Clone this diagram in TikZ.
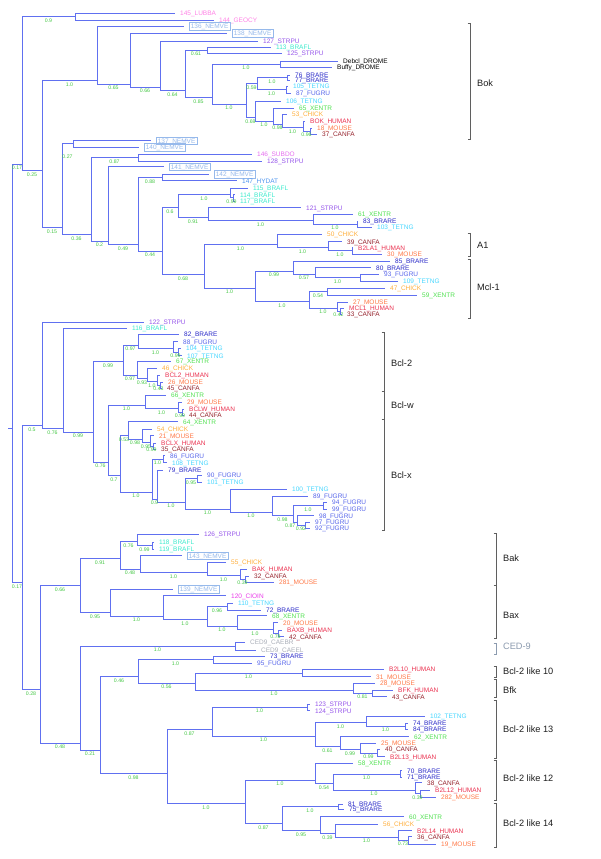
\documentclass[tikz,border=0pt]{standalone}
\usepackage{fontspec}
\setmainfont{Liberation Sans}
\usetikzlibrary{calc}
\definecolor{cbr}{RGB}{96,112,240}
\definecolor{csup}{RGB}{70,200,70}
\definecolor{BRARE}{RGB}{40,40,200}
\definecolor{FUGRU}{RGB}{85,100,235}
\definecolor{TETNG}{RGB}{70,215,255}
\definecolor{XENTR}{RGB}{80,225,80}
\definecolor{CHICK}{RGB}{255,175,60}
\definecolor{HUMAN}{RGB}{235,50,80}
\definecolor{MOUSE}{RGB}{255,120,70}
\definecolor{CANFA}{RGB}{150,35,45}
\definecolor{STRPU}{RGB}{150,85,235}
\definecolor{BRAFL}{RGB}{60,235,205}
\definecolor{NEMVE}{RGB}{150,185,235}
\definecolor{LUBBA}{RGB}{255,130,230}
\definecolor{SUBDO}{RGB}{230,110,240}
\definecolor{HYDAT}{RGB}{80,150,240}
\definecolor{CIOIN}{RGB}{235,60,235}
\definecolor{CAEEL}{RGB}{170,175,185}
\definecolor{DROME}{RGB}{0,0,0}
\definecolor{brk}{RGB}{95,95,95}
\definecolor{grptxt}{RGB}{30,30,30}
\definecolor{cedc}{RGB}{140,155,175}
\tikzset{
  branch/.style={draw=cbr,line width=0.9pt},
  leaf/.style={anchor=west,inner sep=0pt,font=\fontsize{6.5}{7}\selectfont,text height=4.7pt,text depth=0pt},
  leafbox/.style={leaf,draw=NEMVE,text=NEMVE,inner xsep=1.5pt,inner ysep=1.5pt,line width=0.6pt},
  sup/.style={anchor=north,inner sep=0pt,font=\fontsize{5.2}{6}\selectfont,text=csup,text height=3.8pt,text depth=0pt,yshift=-1.6pt},
  bracket/.style={line width=0.7pt},
  grp/.style={anchor=west,inner sep=0pt,font=\fontsize{9.2}{11}\selectfont,text height=6.6pt,text depth=0pt}
}
\makeatletter
\def\tr@none{-}
\newcommand\Lf[5]{%
  \coordinate (#1) at ({#2-5},#3);
  \node[leaf,text=#5] (#1t) at (#2,#3) {#4};
  \expandafter\xdef\csname trS@#1\endcsname{#3}%
  \expandafter\xdef\csname trC@#1\endcsname{1}%
}
\newcommand\Lb[4]{%
  \coordinate (#1) at ({#2-5},#3);
  \node[leafbox] (#1t) at (#2,#3) {#4};
  \expandafter\xdef\csname trS@#1\endcsname{#3}%
  \expandafter\xdef\csname trC@#1\endcsname{1}%
}
\newcommand\Nd[3]{%
  \gdef\tr@S{0}\gdef\tr@C{0}%
  \foreach \chd/\lbl in {#3}{%
    \xdef\tr@S{\fpeval{\tr@S+\csname trS@\chd\endcsname}}%
    \xdef\tr@C{\fpeval{\tr@C+\csname trC@\chd\endcsname}}%
  }%
  \expandafter\xdef\csname trS@#1\endcsname{\tr@S}%
  \expandafter\xdef\csname trC@#1\endcsname{\tr@C}%
  \edef\tr@y{\fpeval{round(\tr@S/\tr@C,2)}}%
  \coordinate (#1) at (#2,\tr@y);
  \foreach \chd/\lbl in {#3}{%
    \draw[branch] (#1) |- (\chd);
    \edef\tr@l{\lbl}%
    \ifx\tr@l\tr@none\else
      \node[sup] (s\chd) at ($(#1|-\chd)!0.5!(\chd)$) {\lbl};
    \fi
  }%
}
\newcommand\Brk[8]{% name, x, y1, y2, text, label y, text colour, bracket colour
  \draw[bracket,draw=#8] ({#2-2.5},#3) -- (#2,#3) -- (#2,#4) -- ({#2-2.5},#4);
  \node[grp,text=#7] (#1) at ({#2+7},#6) {#5};
}
\makeatother
\begin{document}
\begin{tikzpicture}[x=1pt,y=-1pt]
\fill[white] (0,0) rectangle (600,859);
\useasboundingbox (0,0) rectangle (600,859);
% ---------------- leaves ----------------
\Lf{l1}{180}{13.3}{145\_LUBBA}{LUBBA}
\Lf{l2}{219}{20.3}{144\_GEOCY}{LUBBA}
\Lb{l3}{189}{26.5}{136\_NEMVE}
\Lb{l4}{232}{33.5}{138\_NEMVE}
\Lf{l5}{263}{41}{127\_STRPU}{STRPU}
\Lf{l6}{276}{47}{113\_BRAFL}{BRAFL}
\Lf{l7}{287}{53}{125\_STRPU}{STRPU}
\Lf{l8}{343}{61}{Debcl\_DROME}{DROME}
\Lf{l9}{337}{67.5}{Buffy\_DROME}{DROME}
\Lf{l10}{295}{75}{76\_BRARE}{BRARE}
\Lf{l11}{295}{80.3}{77\_BRARE}{BRARE}
\Lf{l12}{293}{86.3}{105\_TETNG}{TETNG}
\Lf{l13}{296}{93}{87\_FUGRU}{FUGRU}
\Lf{l14}{286}{101}{106\_TETNG}{TETNG}
\Lf{l15}{299}{108}{65\_XENTR}{XENTR}
\Lf{l16}{292}{114}{53\_CHICK}{CHICK}
\Lf{l17}{310}{121}{BOK\_HUMAN}{HUMAN}
\Lf{l18}{317}{128}{18\_MOUSE}{MOUSE}
\Lf{l19}{322}{134.5}{37\_CANFA}{CANFA}
\Lb{l20}{156}{140.7}{137\_NEMVE}
\Lb{l21}{144}{147}{140\_NEMVE}
\Lf{l22}{257}{154}{146\_SUBDO}{SUBDO}
\Lf{l23}{267}{161}{128\_STRPU}{STRPU}
\Lb{l24}{169}{166.7}{141\_NEMVE}
\Lb{l25}{214}{174.3}{142\_NEMVE}
\Lf{l26}{242}{180.7}{147\_HYDAT}{HYDAT}
\Lf{l27}{253}{188.3}{115\_BRAFL}{BRAFL}
\Lf{l28}{240}{194.7}{114\_BRAFL}{BRAFL}
\Lf{l29}{240}{201}{117\_BRAFL}{BRAFL}
\Lf{l30}{306}{207.7}{121\_STRPU}{STRPU}
\Lf{l31}{358}{214}{61\_XENTR}{XENTR}
\Lf{l32}{363}{221}{83\_BRARE}{BRARE}
\Lf{l33}{377}{227}{103\_TETNG}{TETNG}
\Lf{l34}{327}{234.3}{50\_CHICK}{CHICK}
\Lf{l35}{347}{241.7}{39\_CANFA}{CANFA}
\Lf{l36}{358}{247.7}{B2LA1\_HUMAN}{HUMAN}
\Lf{l37}{387}{254}{30\_MOUSE}{MOUSE}
\Lf{l38}{395}{261}{85\_BRARE}{BRARE}
\Lf{l39}{376}{267.7}{80\_BRARE}{BRARE}
\Lf{l40}{384}{274.3}{93\_FUGRU}{FUGRU}
\Lf{l41}{403}{281}{109\_TETNG}{TETNG}
\Lf{l42}{390}{288.3}{47\_CHICK}{CHICK}
\Lf{l43}{422}{295}{59\_XENTR}{XENTR}
\Lf{l44}{353}{302.3}{27\_MOUSE}{MOUSE}
\Lf{l45}{349}{308.3}{MCL1\_HUMAN}{HUMAN}
\Lf{l46}{347}{314.3}{33\_CANFA}{CANFA}
\Lf{l47}{149}{322.3}{122\_STRPU}{STRPU}
\Lf{l48}{132}{328.3}{116\_BRAFL}{BRAFL}
\Lf{l49}{184}{334.3}{82\_BRARE}{BRARE}
\Lf{l50}{183}{341.7}{88\_FUGRU}{FUGRU}
\Lf{l51}{186}{348.3}{104\_TETNG}{TETNG}
\Lf{l52}{187}{355.7}{107\_TETNG}{TETNG}
\Lf{l53}{176}{361}{67\_XENTR}{XENTR}
\Lf{l54}{162}{368.3}{46\_CHICK}{CHICK}
\Lf{l55}{165}{375}{BCL2\_HUMAN}{HUMAN}
\Lf{l56}{168}{382.3}{26\_MOUSE}{MOUSE}
\Lf{l57}{167}{388.3}{45\_CANFA}{CANFA}
\Lf{l58}{171}{395}{66\_XENTR}{XENTR}
\Lf{l59}{187}{402.3}{29\_MOUSE}{MOUSE}
\Lf{l60}{189}{409}{BCLW\_HUMAN}{HUMAN}
\Lf{l61}{189}{415}{44\_CANFA}{CANFA}
\Lf{l62}{183}{421.7}{64\_XENTR}{XENTR}
\Lf{l63}{157}{429}{54\_CHICK}{CHICK}
\Lf{l64}{159}{435.7}{21\_MOUSE}{MOUSE}
\Lf{l65}{161}{443.3}{BCLX\_HUMAN}{HUMAN}
\Lf{l66}{161}{449}{35\_CANFA}{CANFA}
\Lf{l67}{170}{455.7}{86\_FUGRU}{FUGRU}
\Lf{l68}{172}{462.7}{108\_TETNG}{TETNG}
\Lf{l69}{168}{470}{79\_BRARE}{BRARE}
\Lf{l70}{207}{475}{90\_FUGRU}{FUGRU}
\Lf{l71}{207}{482.3}{101\_TETNG}{TETNG}
\Lf{l72}{292}{489.3}{100\_TETNG}{TETNG}
\Lf{l73}{313}{496}{89\_FUGRU}{FUGRU}
\Lf{l74}{332}{502.3}{94\_FUGRU}{FUGRU}
\Lf{l75}{332}{509}{99\_FUGRU}{FUGRU}
\Lf{l76}{319}{515.7}{98\_FUGRU}{FUGRU}
\Lf{l77}{315}{522.3}{97\_FUGRU}{FUGRU}
\Lf{l78}{315}{528.3}{92\_FUGRU}{FUGRU}
\Lf{l79}{204}{534.3}{126\_STRPU}{STRPU}
\Lf{l80}{159}{542.3}{118\_BRAFL}{BRAFL}
\Lf{l81}{159}{549}{119\_BRAFL}{BRAFL}
\Lb{l82}{187}{555.7}{143\_NEMVE}
\Lf{l83}{231}{562.3}{55\_CHICK}{CHICK}
\Lf{l84}{252}{569.3}{BAK\_HUMAN}{HUMAN}
\Lf{l85}{254}{576}{32\_CANFA}{CANFA}
\Lf{l86}{279}{582.3}{281\_MOUSE}{MOUSE}
\Lb{l87}{178}{589}{139\_NEMVE}
\Lf{l88}{231}{595.7}{120\_CIOIN}{CIOIN}
\Lf{l89}{238}{603.3}{110\_TETNG}{TETNG}
\Lf{l90}{266}{610}{72\_BRARE}{BRARE}
\Lf{l91}{272}{615.7}{68\_XENTR}{XENTR}
\Lf{l92}{283}{622.7}{20\_MOUSE}{MOUSE}
\Lf{l93}{287}{630}{BAXB\_HUMAN}{HUMAN}
\Lf{l94}{289}{636.7}{42\_CANFA}{CANFA}
\Lf{l95}{250}{642.3}{CED9\_CAEBR}{CAEEL}
\Lf{l96}{261}{650}{CED9\_CAEEL}{CAEEL}
\Lf{l97}{270}{656}{73\_BRARE}{BRARE}
\Lf{l98}{257}{663.3}{95\_FUGRU}{FUGRU}
\Lf{l99}{389}{669.3}{B2L10\_HUMAN}{HUMAN}
\Lf{l100}{376}{676.7}{31\_MOUSE}{MOUSE}
\Lf{l101}{380}{683.3}{28\_MOUSE}{MOUSE}
\Lf{l102}{398}{690}{BFK\_HUMAN}{HUMAN}
\Lf{l103}{392}{696.7}{43\_CANFA}{CANFA}
\Lf{l104}{315}{704}{123\_STRPU}{STRPU}
\Lf{l105}{315}{710.7}{124\_STRPU}{STRPU}
\Lf{l106}{430}{716}{102\_TETNG}{TETNG}
\Lf{l107}{413}{723.3}{74\_BRARE}{BRARE}
\Lf{l108}{413}{729.3}{84\_BRARE}{BRARE}
\Lf{l109}{414}{736.7}{62\_XENTR}{XENTR}
\Lf{l110}{381}{743.3}{25\_MOUSE}{MOUSE}
\Lf{l111}{385}{749.3}{40\_CANFA}{CANFA}
\Lf{l112}{390}{756.7}{B2L13\_HUMAN}{HUMAN}
\Lf{l113}{358}{763.3}{58\_XENTR}{XENTR}
\Lf{l114}{407}{770.7}{70\_BRARE}{BRARE}
\Lf{l115}{407}{777.3}{71\_BRARE}{BRARE}
\Lf{l116}{427}{782.7}{38\_CANFA}{CANFA}
\Lf{l117}{435}{790}{B2L12\_HUMAN}{HUMAN}
\Lf{l118}{441}{797.3}{282\_MOUSE}{MOUSE}
\Lf{l119}{348}{804.3}{81\_BRARE}{BRARE}
\Lf{l120}{349}{809.3}{75\_BRARE}{BRARE}
\Lf{l121}{409}{816.7}{60\_XENTR}{XENTR}
\Lf{l122}{383}{824}{56\_CHICK}{CHICK}
\Lf{l123}{417}{830.7}{B2L14\_HUMAN}{HUMAN}
\Lf{l124}{417}{836.7}{36\_CANFA}{CANFA}
\Lf{l125}{441}{844}{19\_MOUSE}{MOUSE}
% ---------------- internal nodes: top ----------------
\Nd{nLG}{75}{l1/-,l2/-}
\Nd{nH}{280}{l8/-,l9/-}
\Nd{nF}{207}{l6/-,l7/-}
\Nd{nIa}{287}{l10/-,l11/-}
\Nd{nJ}{286}{l12/-,l13/-}
\Nd{nI}{257}{nIa/1.0,nJ/1.0}
\Nd{nP}{310}{l18/-,l19/-}
\Nd{nO}{303}{l17/-,nP/0.96}
\Nd{nN}{282}{l16/-,nO/1.0}
\Nd{nM}{273}{l15/-,nN/0.98}
\Nd{nL}{255}{l14/-,nM/1.0}
\Nd{nK}{246}{nI/0.59,nL/0.69}
\Nd{nG}{212}{nH/1.0,nK/1.0}
\Nd{nE}{185}{nF/0.61,nG/0.85}
\Nd{nD}{160}{l5/-,nE/0.64}
\Nd{nC}{130}{l4/-,nD/0.66}
\Nd{nB}{97}{l3/-,nC/0.65}
\Nd{nS}{73}{l20/-,l21/-}
\Nd{nSB}{138}{l22/-,l23/-}
\Nd{nHY}{162}{l25/-,l26/-}
\Nd{nTb}{233}{l28/-,l29/-}
\Nd{nTa}{230}{l27/-,nTb/0.99}
\Nd{nAO}{357}{l32/-,l33/-}
\Nd{nAN}{313}{l31/-,nAO/1.0}
\Nd{nV}{208}{l30/-,nAN/1.0}
\Nd{nU}{178}{nTa/1.0,nV/0.91}
\Nd{nAE}{352}{l36/-,l37/-}
\Nd{nAD}{328}{l35/-,nAE/1.0}
\Nd{nAC}{277}{l34/-,nAD/1.0}
\Nd{nAH}{360}{l40/-,l41/-}
\Nd{nAG}{315}{l39/-,nAH/1.0}
\Nd{nAF}{293}{l38/-,nAG/0.57}
\Nd{nAM}{340}{l45/-,l46/-}
\Nd{nAL}{337}{l44/-,nAM/0.42}
\Nd{nAK}{327}{l42/-,l43/-}
\Nd{nAJ}{309}{nAK/0.54,nAL/1.0}
\Nd{nAI}{255}{nAF/0.99,nAJ/1.0}
\Nd{nX}{204}{nAC/1.0,nAI/1.0}
\Nd{nW}{162}{nU/0.6,nX/0.68}
\Nd{nY}{138}{nHY/0.88,nW/0.44}
\Nd{nZ}{108}{l24/-,nY/0.49}
\Nd{nAA}{91}{nSB/0.87,nZ/0.2}
\Nd{nAB}{62}{nS/-,nAA/0.36}
\node[sup] (snS) at (67.5,152.5) {0.27};
\Nd{nR}{42}{nB/1.0,nAB/0.15}
\Nd{nQ}{22}{nLG/0.9,nR/0.25}
% ---------------- internal nodes: middle ----------------
\Nd{nBC}{178}{l51/-,l52/-}
\Nd{nBB}{173}{l50/-,nBC/0.99}
\Nd{nBA}{138}{l49/-,nBB/1.0}
\Nd{nBH}{160}{l56/-,l57/-}
\Nd{nBG}{157}{l55/-,nBH/0.43}
\Nd{nBF}{147}{l54/-,nBG/1.0}
\Nd{nBE}{137}{l53/-,nBF/0.93}
\Nd{nBD}{123}{nBA/0.97,nBE/0.97}
\Nd{nBM}{182}{l60/-,l61/-}
\Nd{nBL}{178}{l59/-,nBM/0.99}
\Nd{nBK}{145}{l58/-,nBL/1.0}
\Nd{nBS}{153}{l65/-,l66/-}
\Nd{nBR}{150}{l64/-,nBS/0.99}
\Nd{nBQ}{142}{l63/-,nBR/0.95}
\Nd{nBP}{128}{l62/-,nBQ/0.98}
\Nd{nBV}{163}{l67/-,l68/-}
\Nd{nBZ}{197}{l70/-,l71/-}
\Nd{nCF}{305}{l77/-,l78/-}
\Nd{nCE}{297}{l76/-,nCF/0.92}
\Nd{nCD}{323}{l74/-,l75/-}
\Nd{nCC}{293}{nCD/1.0,nCE/-}
\node[sup,anchor=north east] (snCE) at ($(nCC|-nCE)+(2.5,0)$) {0.87};
\Nd{nCB}{272}{l73/-,nCC/0.98}
\Nd{nCA}{230}{l72/-,nCB/1.0}
\Nd{nBY}{185}{nBZ/0.95,nCA/1.0}
\Nd{nBX}{157}{l69/-,nBY/1.0}
\Nd{nBT}{152}{nBV/1.0,nBX/0.9}
\Nd{nBO}{120}{nBP/0.53,nBT/1.0}
\Nd{nBN}{108}{nBK/1.0,nBO/0.7}
\Nd{nBI}{93}{nBD/0.99,nBN/0.76}
\Nd{nCG}{63}{l48/-,nBI/0.99}
\Nd{nCH}{42}{l47/-,nCG/0.76}
% ---------------- internal nodes: bottom ----------------
\Nd{nCK}{152}{l80/-,l81/-}
\Nd{nCL}{137}{l79/-,nCK/0.99}
\Nd{nCQ}{245}{l85/-,l86/-}
\Nd{nCP}{240}{l84/-,nCQ/0.39}
\Nd{nCO}{207}{l83/-,nCP/1.0}
\Nd{nCN}{140}{l82/-,nCO/1.0}
\Nd{nCM}{120}{nCL/0.76,nCN/0.48}
\Nd{nCV}{227}{l89/-,l90/-}
\Nd{nCY}{278}{l93/-,l94/-}
\Nd{nCX}{273}{l92/-,nCY/0.78}
\Nd{nCW}{237}{l91/-,nCX/1.0}
\Nd{nCU}{207}{nCV/0.96,nCW/1.0}
\Nd{nCT}{163}{l88/-,nCU/1.0}
\Nd{nCS}{110}{l87/-,nCT/1.0}
\Nd{nCR}{80}{nCM/0.91,nCS/0.95}
\Nd{nDC}{235}{l95/-,l96/-}
\Nd{nDG}{213}{l97/-,l98/-}
\Nd{nDI}{302}{l99/-,l100/-}
\Nd{nDK}{372}{l102/-,l103/-}
\Nd{nDJ}{353}{l101/-,nDK/0.81}
\Nd{nDH}{195}{nDI/1.0,nDJ/1.0}
\Nd{nDF}{138}{nDG/1.0,nDH/0.56}
\Nd{nDN}{307}{l104/-,l105/-}
\Nd{nDR}{405}{l107/-,l108/-}
\Nd{nDP}{366}{l106/-,nDR/1.0}
\Nd{nDT}{377}{l111/-,l112/-}
\Nd{nDS}{360}{l110/-,nDT/0.99}
\Nd{nDQ}{340}{l109/-,nDS/0.99}
\Nd{nDO}{315}{nDP/1.0,nDQ/0.61}
\Nd{nDL}{212}{nDN/1.0,nDO/1.0}
\Nd{nDX}{400}{l114/-,l115/-}
\Nd{nDZ}{420}{l117/-,l118/-}
\Nd{nDY}{415}{l116/-,nDZ/0.39}
\Nd{nDW}{333}{nDX/1.0,nDY/1.0}
\Nd{nDU}{315}{l113/-,nDW/0.54}
\Nd{nEA}{338}{l119/-,l120/-}
\Nd{nEE}{408}{l124/-,l125/-}
\Nd{nED}{398}{l123/-,nEE/0.73}
\Nd{nEC}{335}{l122/-,nED/1.0}
\Nd{nEB}{320}{l121/-,nEC/0.39}
\Nd{nDV}{282}{nEA/1.0,nEB/0.95}
\Nd{nDM}{245}{nDU/1.0,nDV/0.87}
\Nd{nDE}{167}{nDL/0.87,nDM/1.0}
\Nd{nDD}{100}{nDF/0.46,nDE/0.98}
\Nd{nDB}{80}{nDC/1.0,nDD/0.21}
\Nd{nDA}{40}{nCR/0.66,nDB/0.48}
\Nd{nCI}{22}{nCH/0.5,nDA/0.28}
\Nd{nRoot}{12}{nQ/0.17,nCI/0.17}
\coordinate (rootend) at ($(nRoot)+(-4,0)$);
\draw[branch] (rootend) -- (nRoot);
% ---------------- group brackets ----------------
\Brk{gBok}{470}{23}{139}{Bok}{83}{grptxt}{brk}
\Brk{gAone}{470}{233}{256}{A1}{245}{grptxt}{brk}
\Brk{gMcl}{470}{259}{318}{Mcl-1}{287}{grptxt}{brk}
\Brk{gBcltwo}{384}{332}{391}{Bcl-2}{363}{grptxt}{brk}
\Brk{gBclw}{384}{391}{419}{Bcl-w}{405}{grptxt}{brk}
\Brk{gBclx}{384}{419}{530}{Bcl-x}{475}{grptxt}{brk}
\Brk{gBak}{496}{533}{585}{Bak}{558}{grptxt}{brk}
\Brk{gBax}{496}{585}{638}{Bax}{615}{grptxt}{brk}
\Brk{gCED}{496}{643}{654}{CED-9}{646}{cedc}{cedc}
\Brk{gLten}{496}{666}{677}{Bcl-2 like 10}{671}{grptxt}{brk}
\Brk{gBfk}{496}{679}{697}{Bfk}{690}{grptxt}{brk}
\Brk{gLthirteen}{496}{700}{758}{Bcl-2 like 13}{729}{grptxt}{brk}
\Brk{gLtwelve}{496}{760}{800}{Bcl-2 like 12}{778}{grptxt}{brk}
\Brk{gLfourteen}{496}{803}{847}{Bcl-2 like 14}{823}{grptxt}{brk}
\end{tikzpicture}
\end{document}
